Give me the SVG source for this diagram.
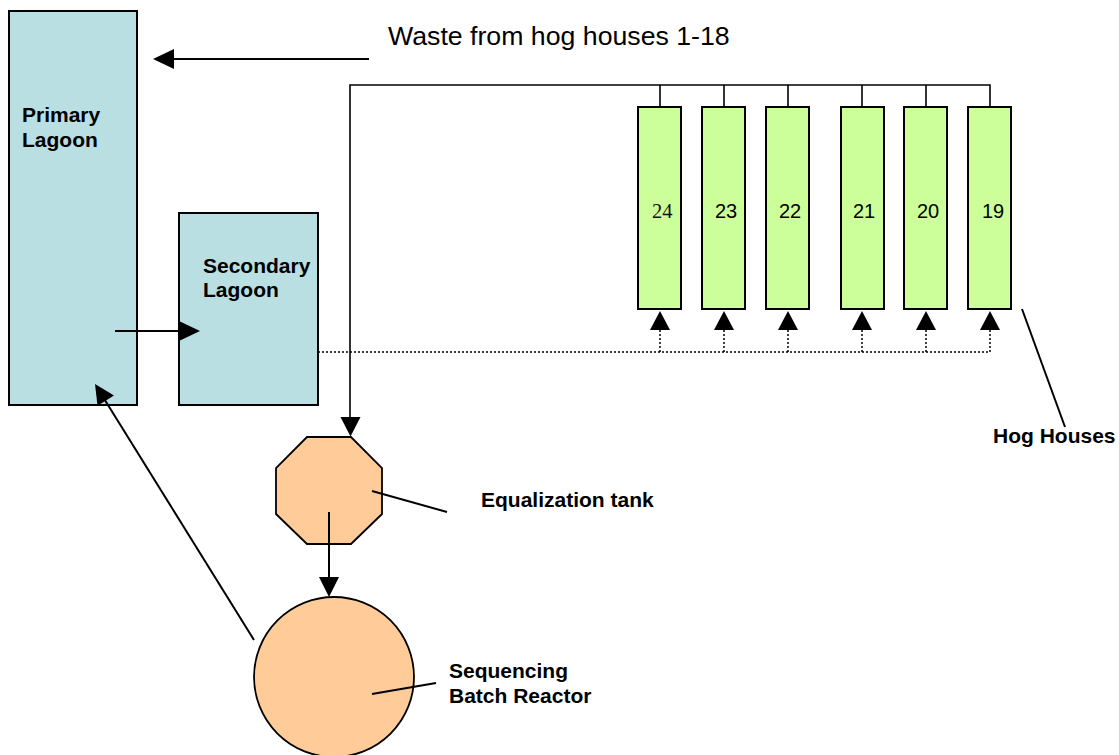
<svg xmlns="http://www.w3.org/2000/svg" width="1119" height="755" viewBox="0 0 1119 755">
<style>
.lagoon{fill:#B9DFE2;stroke:#000;stroke-width:2}
.house{fill:#CCFF99;stroke:#000;stroke-width:2}
.tank{fill:#FFCC99;stroke:#000;stroke-width:1.8}
.lbl{font-family:"Liberation Sans",Arial,sans-serif;font-weight:bold;font-size:21px;fill:#000}
.num{font-family:"Liberation Sans",Arial,sans-serif;font-size:20px;fill:#000}
.ln{stroke:#000;stroke-width:2;fill:none}
.pipe{stroke:#000;stroke-width:1.6;fill:none}
.dot{stroke:#000;stroke-width:1.5;fill:none;stroke-dasharray:2 2}
.ah{fill:#000}
</style>
<rect width="1119" height="755" fill="#fff"/>
<g id="primary-lagoon">
<rect class="lagoon" x="9" y="11" width="128" height="394"/>
<text class="lbl" x="22" y="122">Primary</text>
<text class="lbl" x="22" y="147">Lagoon</text>
</g>
<g id="secondary-lagoon">
<rect class="lagoon" x="179" y="213" width="139" height="192"/>
<text class="lbl" x="203" y="273">Secondary</text>
<text class="lbl" x="203" y="297">Lagoon</text>
</g>
<g id="house-24"><rect class="house" x="638" y="107" width="43" height="202"/><text x="652" y="218" style="font-family:'Liberation Serif','Times New Roman',serif;font-size:20.5px;fill:#111">24</text></g>
<g id="house-23"><rect class="house" x="702" y="107" width="43" height="202"/><text class="num" x="715" y="218">23</text></g>
<g id="house-22"><rect class="house" x="766" y="107" width="43" height="202"/><text class="num" x="779" y="218">22</text></g>
<g id="house-21"><rect class="house" x="841" y="107" width="43" height="202"/><text class="num" x="853" y="218">21</text></g>
<g id="house-20"><rect class="house" x="904" y="107" width="43" height="202"/><text class="num" x="917" y="218">20</text></g>
<g id="house-19"><rect class="house" x="968" y="107" width="43" height="202"/><text class="num" x="982" y="218">19</text></g>
<g id="equalization-tank">
<polygon class="tank" points="307,437 351,437 382,468 382,514 351,544 307,544 276,514 276,468"/>
</g>
<g id="sbr">
<circle class="tank" cx="334" cy="677" r="80"/>
</g>
<g id="labels">
<text x="388" y="45" style="font-family:'Liberation Sans',Arial,sans-serif;font-size:26.7px;fill:#000">Waste from hog houses 1-18</text>
<text class="lbl" x="993" y="443">Hog Houses</text>
<text class="lbl" x="481" y="507">Equalization tank</text>
<text class="lbl" x="449" y="678">Sequencing</text>
<text class="lbl" x="449" y="703">Batch Reactor</text>
</g>
<g id="connectors">
<line class="ln" x1="369" y1="59" x2="172" y2="59"/>
<polygon class="ah" points="153,59 174,49 174,69"/>
<line class="ln" x1="115" y1="331" x2="182" y2="331"/>
<polygon class="ah" points="200,331 180,321.5 180,340.5"/>
<polyline class="pipe" points="990,107 990,85 350,85 350,420"/>
<line class="pipe" x1="660" y1="85" x2="660" y2="107"/>
<line class="pipe" x1="724" y1="85" x2="724" y2="107"/>
<line class="pipe" x1="788" y1="85" x2="788" y2="107"/>
<line class="pipe" x1="862" y1="85" x2="862" y2="107"/>
<line class="pipe" x1="926" y1="85" x2="926" y2="107"/>
<polygon class="ah" points="350.5,436.5 340.5,417 360.5,417"/>
<polyline class="dot" points="318,352 990,352"/>
<line class="dot" x1="660" y1="352" x2="660" y2="330"/>
<line class="dot" x1="724" y1="352" x2="724" y2="330"/>
<line class="dot" x1="788" y1="352" x2="788" y2="330"/>
<line class="dot" x1="862" y1="352" x2="862" y2="330"/>
<line class="dot" x1="926" y1="352" x2="926" y2="330"/>
<line class="dot" x1="990" y1="352" x2="990" y2="330"/>
<polygon class="ah" points="660,311 650,330 670,330"/>
<polygon class="ah" points="724,311 714,330 734,330"/>
<polygon class="ah" points="788,311 778,330 798,330"/>
<polygon class="ah" points="862,311 852,330 872,330"/>
<polygon class="ah" points="926,311 916,330 936,330"/>
<polygon class="ah" points="990,311 980,330 1000,330"/>
<line class="ln" x1="329" y1="512" x2="329" y2="580"/>
<polygon class="ah" points="329,597 319,577 339,577"/>
<line class="ln" x1="254" y1="640" x2="103" y2="397"/>
<polygon class="ah" points="95,384 114,395.5 97.5,405.8"/>
<line class="ln" x1="1022" y1="309" x2="1065" y2="427"/>
<line class="ln" x1="372" y1="491" x2="447" y2="512"/>
<line class="ln" x1="372" y1="694" x2="436" y2="683"/>
</g>
</svg>
